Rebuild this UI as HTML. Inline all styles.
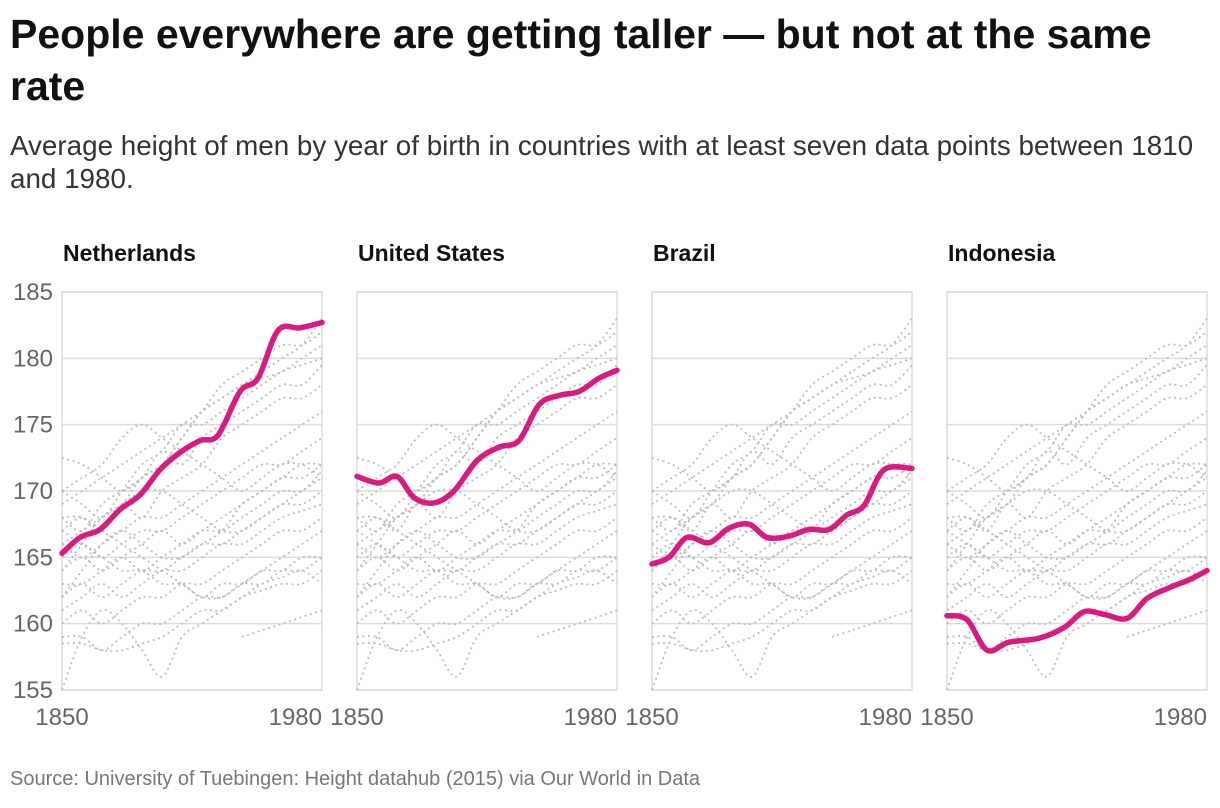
<!DOCTYPE html>
<html><head><meta charset="utf-8">
<style>
body{margin:0;background:#fff;width:1220px;height:808px;overflow:hidden;font-family:"Liberation Sans",sans-serif}
.t{position:absolute;left:10px;top:8px;font-size:41px;font-weight:bold;color:#111;line-height:52px;width:1170px}
.s{position:absolute;left:10px;top:129px;font-size:27.8px;color:#333;line-height:33px;width:1206px}
.src{position:absolute;left:10px;top:768px;font-size:20px;color:#777}
svg{position:absolute;left:0;top:0}
</style></head><body>
<div class="t">People everywhere are getting taller — but not at the same rate</div>
<div class="s">Average height of men by year of birth in countries with at least seven data points between 1810 and 1980.</div>
<div class="src">Source: University of Tuebingen: Height datahub (2015) via Our World in Data</div>
<svg id="c" width="1220" height="808"></svg>
<script>
const countries=["Netherlands","United States","Brazil","Indonesia"];
const yTicks=[155,160,165,170,175,180,185];
const xTickLabels=[1850,1980];
const nlYears=[1850,1859,1869,1879,1889,1899,1909,1919,1928,1939,1948,1958,1969,1980];
const nlValues=[165.3,166.5,167.1,168.6,169.7,171.6,172.9,173.8,174.2,177.5,178.5,182.1,182.3,182.7];
const usYears=[1850,1861,1870,1878.5,1888.5,1898.5,1910,1921,1931,1941,1951,1961,1971,1980];
const usValues=[171.1,170.6,171.1,169.5,169.1,170.0,172.3,173.3,173.8,176.5,177.2,177.5,178.5,179.1];
const brYears=[1850,1858.5,1867.5,1878.5,1888.5,1898.5,1907.5,1918.5,1928.5,1938.5,1947.5,1956,1966,1980];
const brValues=[164.5,165.0,166.5,166.1,167.2,167.5,166.5,166.6,167.1,167.1,168.2,168.9,171.6,171.7];
const idYears=[1850,1860,1870,1881,1896,1908.5,1918.5,1928.5,1940,1950,1961,1971,1980];
const idValues=[160.6,160.3,158.0,158.6,158.9,159.7,160.9,160.7,160.4,161.9,162.7,163.3,164.0];
const bgYears=[1850,1860,1870,1880,1890,1900,1910,1920,1930,1940,1950,1960,1970,1980];
const bg1=[172.5,172,171,170,171,172,174,176,177,178,179,180,181,183];
const bg2=[170,169,168,170,172,173,175,175,176,177,178,179,179.5,180];
const bg3=[168,167,169,170,171,173,172,174,175,176,177,178,178,179.5];
const bg4=[167,168,167,169,168,170,171,172,174,175,176,177,177,178];
const bg5=[166,165,166,167,168,168,169,170,171,172,173,174,175,176];
const bg6=[165,166,165,166,167,167,168,169,170,171,172,172,173,174];
const bg7=[164,165,164,165,166,167,166,167,168,169,170,171,171,172];
const bg8=[163,163,164,165,164,165,166,167,167,168,169,170,170,171.5];
const bg9=[162,163,162,163,164,164,165,166,166,167,168,169,169,170];
const bg10=[161,162,163,162,163,164,164,165,166,166,167,168,168.5,169];
const bg11=[160,161,160,161,162,162,163,163,164,165,166,167,167,168];
const bg12=[159,159,158,159,160,160,161,162,162,163,163,164,164,165];
const bg13=[158.5,158.5,158,158,158.5,159,160,161,161,162,162.5,163,163,164];
const bg14=[170,171,172,174,175,174,173,172,171,170,171,172,172,171];
const bg15=[168,168,167,166,165,164,163,162,162,163,164,165,166,167];
const bg16=[155,159,161,160,158,156,159,160,161,162,163,163.5,164,163];
const bg17=[169,170,171,172,173,174,175,176,177,178,178.5,179,180,181];
const bg18=[164,166,168,169,170,170,169,168,167,167,168,169,170,171];
const bg19=[162,164,166,167,166,165,165,166,167,169,170,171,172,172];
const bg20=[null,null,null,null,null,null,null,null,null,159,159.5,160,160.5,161];
const bg21=[167,166,165,164,164,163,163,162,163,163,164,164,165,165];
const bg22=[166,167,168,169,171,172,174,176,178,179,180,181,181,182];
const bgSeries=[bg1,bg2,bg3,bg4,bg5,bg6,bg7,bg8,bg9,bg10,bg11,bg12,bg13,bg14,bg15,bg16,bg17,bg18,bg19,bg20,bg21,bg22];
const mainSeries=[[nlYears,nlValues],[usYears,usValues],[brYears,brValues],[idYears,idValues]];

const NS="http://www.w3.org/2000/svg";
const svg=document.getElementById('c');
const panelLefts=[62,357,652,947], panelW=260, plotTop=292, plotBottom=690;
function yScale(v){return plotBottom-(v-155)/30*(plotBottom-plotTop);}
function xScale(p,yr){return panelLefts[p]+(yr-1850)/130*panelW;}
function mk(tag,attrs){const e=document.createElementNS(NS,tag);for(const k in attrs)e.setAttribute(k,attrs[k]);svg.appendChild(e);return e;}
function smooth(pts){
  if(pts.length<2)return "";
  let d="M"+pts[0][0]+","+pts[0][1];
  for(let i=0;i<pts.length-1;i++){
    const p0=pts[i-1]||pts[i],p1=pts[i],p2=pts[i+1],p3=pts[i+2]||p2;
    const c1=[p1[0]+(p2[0]-p0[0])/6,p1[1]+(p2[1]-p0[1])/6];
    const c2=[p2[0]-(p3[0]-p1[0])/6,p2[1]-(p3[1]-p1[1])/6];
    d+=" C"+c1+" "+c2+" "+p2;
  }
  return d;
}
countries.forEach((name,p)=>{
  const L=panelLefts[p];
  const t=mk('text',{x:L+1,y:261,'font-size':23,'font-weight':'bold',fill:'#111'});
  t.textContent=name;
  
  
  yTicks.forEach(v=>{
    const g=mk('line',{x1:L,x2:L+panelW,y1:yScale(v),y2:yScale(v),stroke:'#dcdcdc','stroke-width':1.5});
    
    
    if(p===0){
      const tl=mk('text',{x:L-9,y:yScale(v)+8,'font-size':24,fill:'#666','text-anchor':'end'});
      tl.textContent=v;
      
      
    }
  });
  const b=mk('rect',{x:L,y:plotTop,width:panelW,height:plotBottom-plotTop,fill:'none',stroke:'#dcdcdc','stroke-width':1.5});
  
  
  xTickLabels.forEach((yr,i)=>{
    const xl=mk('text',{x:xScale(p,yr),y:725,'font-size':24,fill:'#666','text-anchor':i===0?'middle':'end'});
    xl.textContent=yr;
    
    
  });
  bgSeries.forEach(s=>{
    const pts=[];
    s.forEach((v,i)=>{if(v!==null)pts.push([xScale(p,bgYears[i]),yScale(v)]);});
    const l=mk('path',{d:smooth(pts),fill:'none',stroke:'#bdbdbd','stroke-width':1.8,'stroke-dasharray':'2 3.5'});
    
    
  });
  const [ys,vs]=mainSeries[p];
  const pts=ys.map((yr,i)=>[xScale(p,yr),yScale(vs[i])]);
  const m=mk('path',{d:smooth(pts),fill:'none',stroke:'#d81b7f','stroke-width':5.5,'stroke-linecap':'round','stroke-linejoin':'round'});
  
  
});
</script>
</body></html>
